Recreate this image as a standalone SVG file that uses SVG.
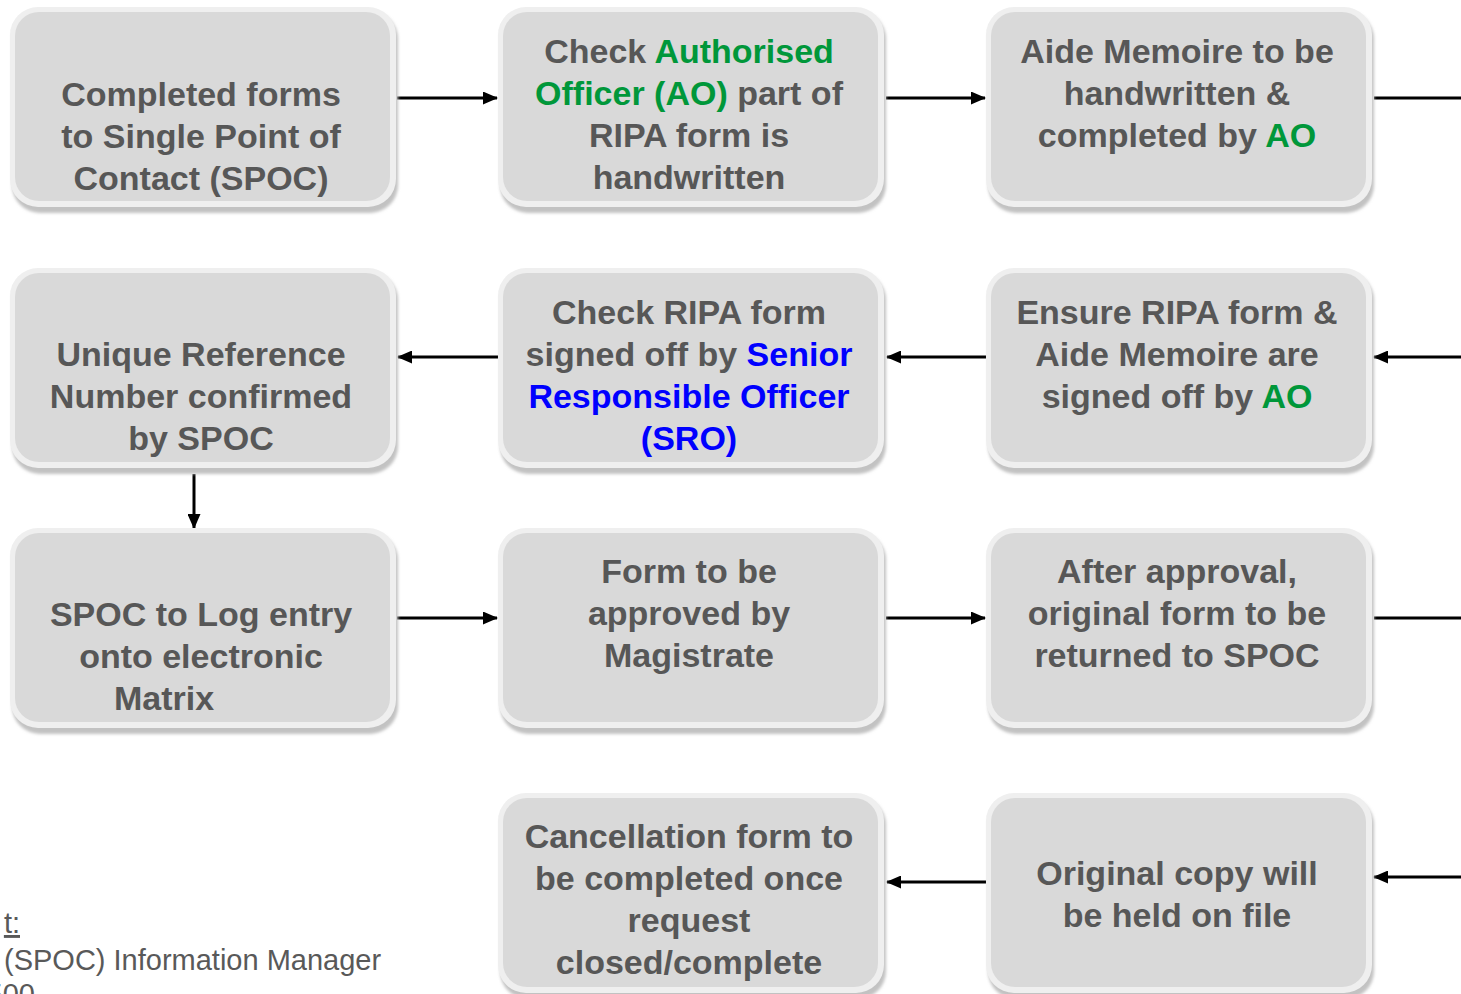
<svg xmlns="http://www.w3.org/2000/svg" width="1461" height="994" viewBox="0 0 1461 994">
<style>
  .sh{fill:#c2c2c2}
  .out{fill:#efefef}
  .in{fill:#d9d9d9}
  .t{font-family:"Liberation Sans",Arial,sans-serif;font-weight:bold;font-size:34px;fill:#575757;text-anchor:middle}
  .g{fill:#00973a}
  .b{fill:#0000ff}
  .n{font-family:"Liberation Sans",Arial,sans-serif;font-size:29px;fill:#595959}
  .c{stroke:#000;stroke-width:3;fill:none}
</style>
<defs>
  <filter id="blur" x="-5%" y="-5%" width="110%" height="115%"><feGaussianBlur stdDeviation="1.5"/></filter>
  <marker id="ah" markerUnits="userSpaceOnUse" markerWidth="15" markerHeight="13" refX="14" refY="6.5" orient="auto">
    <path d="M0,0 L15,6.5 L0,13 z" fill="#000"/>
  </marker>
  <g id="box">
    <rect class="sh" x="2" y="4" width="386" height="202" rx="28" filter="url(#blur)"/>
    <rect class="out" x="0" y="0" width="386" height="200" rx="28"/>
    <rect class="in" x="5" y="5" width="375" height="189" rx="24"/>
  </g>
</defs>
<rect width="1461" height="994" fill="#fff"/>

<g id="connectors">
  <line class="c" x1="397" y1="98" x2="497" y2="98" marker-end="url(#ah)"/>
  <line class="c" x1="886" y1="98" x2="985" y2="98" marker-end="url(#ah)"/>
  <line class="c" x1="1374" y1="98" x2="1461" y2="98"/>
  <line class="c" x1="1461" y1="357" x2="1374" y2="357" marker-end="url(#ah)"/>
  <line class="c" x1="986" y1="357" x2="887" y2="357" marker-end="url(#ah)"/>
  <line class="c" x1="498" y1="357" x2="398" y2="357" marker-end="url(#ah)"/>
  <line class="c" x1="194" y1="474" x2="194" y2="528" marker-end="url(#ah)"/>
  <line class="c" x1="397" y1="618" x2="497" y2="618" marker-end="url(#ah)"/>
  <line class="c" x1="886" y1="618" x2="985" y2="618" marker-end="url(#ah)"/>
  <line class="c" x1="1374" y1="618" x2="1461" y2="618"/>
  <line class="c" x1="986" y1="882" x2="887" y2="882" marker-end="url(#ah)"/>
  <line class="c" x1="1461" y1="877" x2="1374" y2="877" marker-end="url(#ah)"/>
</g>

<g id="n1">
  <use href="#box" x="10" y="7"/>
  <text class="t"><tspan x="201" y="106">Completed forms</tspan><tspan x="201" y="148">to Single Point of</tspan><tspan x="201" y="190">Contact (SPOC)</tspan></text>
</g>
<g id="n2">
  <use href="#box" x="498" y="7"/>
  <text class="t"><tspan x="689" y="63">Check <tspan class="g">Authorised</tspan></tspan><tspan x="689" y="105"><tspan class="g">Officer (AO)</tspan> part of</tspan><tspan x="689" y="147">RIPA form is</tspan><tspan x="689" y="189">handwritten</tspan></text>
</g>
<g id="n3">
  <use href="#box" x="986" y="7"/>
  <text class="t"><tspan x="1177" y="63">Aide Memoire to be</tspan><tspan x="1177" y="105">handwritten &amp;</tspan><tspan x="1177" y="147">completed by <tspan class="g">AO</tspan></tspan></text>
</g>

<g id="n4">
  <use href="#box" x="986" y="268"/>
  <text class="t"><tspan x="1177" y="324">Ensure RIPA form &amp;</tspan><tspan x="1177" y="366">Aide Memoire are</tspan><tspan x="1177" y="408">signed off by <tspan class="g">AO</tspan></tspan></text>
</g>
<g id="n5">
  <use href="#box" x="498" y="268"/>
  <text class="t"><tspan x="689" y="324">Check RIPA form</tspan><tspan x="689" y="366">signed off by <tspan class="b">Senior</tspan></tspan><tspan x="689" y="408" class="b">Responsible Officer</tspan><tspan x="689" y="450" class="b">(SRO)</tspan></text>
</g>
<g id="n6">
  <use href="#box" x="10" y="268"/>
  <text class="t"><tspan x="201" y="366">Unique Reference</tspan><tspan x="201" y="408">Number confirmed</tspan><tspan x="201" y="450">by SPOC</tspan></text>
</g>

<g id="n7">
  <use href="#box" x="10" y="528"/>
  <text class="t"><tspan x="201" y="626">SPOC to Log entry</tspan><tspan x="201" y="668">onto electronic</tspan><tspan x="164" y="710">Matrix</tspan></text>
</g>
<g id="n8">
  <use href="#box" x="498" y="528"/>
  <text class="t"><tspan x="689" y="583">Form to be</tspan><tspan x="689" y="625">approved by</tspan><tspan x="689" y="667">Magistrate</tspan></text>
</g>
<g id="n9">
  <use href="#box" x="986" y="528"/>
  <text class="t"><tspan x="1177" y="583">After approval,</tspan><tspan x="1177" y="625">original form to be</tspan><tspan x="1177" y="667">returned to SPOC</tspan></text>
</g>

<g id="n10">
  <use href="#box" x="986" y="793"/>
  <text class="t"><tspan x="1177" y="885">Original copy will</tspan><tspan x="1177" y="927">be held on file</tspan></text>
</g>
<g id="n11">
  <use href="#box" x="498" y="793"/>
  <text class="t"><tspan x="689" y="848">Cancellation form to</tspan><tspan x="689" y="890">be completed once</tspan><tspan x="689" y="932">request</tspan><tspan x="689" y="974">closed/complete</tspan></text>
</g>

<g id="note">
  <text class="n" x="20" y="933" text-anchor="end" text-decoration="underline">t:</text>
  <text class="n" x="4" y="970">(SPOC) Information Manager</text>
  <text class="n" x="35" y="1004" text-anchor="end">500</text>
</g>
</svg>
